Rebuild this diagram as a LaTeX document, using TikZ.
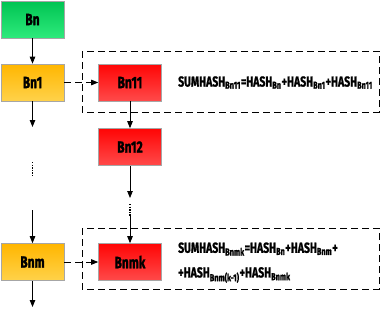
\documentclass[tikz,border=0pt]{standalone}
\usepackage{fontspec}
\setmainfont[FakeStretch=0.72, BoldFeatures={FakeBold=1.2}]{Fira Sans}
\usetikzlibrary{arrows.meta}

\definecolor{gruenoben}{HTML}{00C452}
\definecolor{gruenunten}{HTML}{2EEA7C}
\definecolor{gelboben}{HTML}{FFB600}
\definecolor{gelbunten}{HTML}{FFD24A}
\definecolor{rotoben}{HTML}{FF0505}
\definecolor{rotunten}{HTML}{FF4A4A}

\tikzset{
	blk/.style={draw=black!35, line width=0.6pt, minimum width=63pt, minimum height=37pt, inner sep=0pt, font=\fontsize{16.5pt}{18pt}\selectfont\bfseries},
	gruenblk/.style={blk, top color=gruenoben, bottom color=gruenunten},
	gelbblk/.style={blk, top color=gelboben, bottom color=gelbunten},
	rotblk/.style={blk, top color=rotoben, bottom color=rotunten},
	pfeil/.style={line width=0.8pt, -{Triangle[length=7pt,width=5.5pt]}},
	strich/.style={line width=0.8pt, dash pattern=on 7pt off 4pt},
	punkte/.style={line width=1.4pt, dash pattern=on 1.3pt off 1.3pt}
}

\begin{document}
\begin{tikzpicture}[
		x=1pt, y=-1pt,
		every node/.style={font=\fontsize{14.5pt}{16pt}\selectfont\bfseries}
		]
		\useasboundingbox (0,0) rectangle (382,308);
		
		% Bloecke
		\node[gruenblk] (bn) at (32.5,19.5) {Bn};
		\node[gelbblk] (bn1) at (32.5,82.5) {Bn1};
		\node[gelbblk] (bnm) at (32.5,262) {Bnm};
		\node[rotblk] (bn11) at (130,82.5) {Bn11};
		\node[rotblk] (bn12) at (130,147) {Bn12};
		\node[rotblk] (bnmk) at (130,262) {Bnmk};
		
		\draw [strich] (82,51) rectangle (379,112);
		\draw [strich] (82,228) rectangle (379,289);
		
		\coordinate (l1) at (32.5,127);
		\coordinate (l2) at (32.5,210);
		\coordinate (l3) at (32.5,307);
		\coordinate (r1) at (130,198);
		\coordinate (r2) at (130,216);
		
		\draw [pfeil] (bn) -- (bn1);
		\draw [pfeil] (bn1) -- (l1);
		\draw [punkte] (32.5,162) -- (32.5,176);
		\draw [pfeil] (l2) -- (bnm);
		\draw [pfeil] (bnm) -- (l3);
		
		\draw [pfeil] (bn11) -- (bn12);
		\draw [pfeil] (bn12) -- (r1);
		\draw [punkte] (130,204) -- (130,216);
		\draw [pfeil] (r2) -- (bnmk);
		
		\draw [pfeil, strich] (bn1) -- (bn11);
		\draw [pfeil, strich] (bnm) -- (bnmk);
		
		% Summen
		\node[anchor=west, inner sep=0pt] (sum1) at (178,82.5) {SUMHASH\textsubscript{Bn11}=HASH\textsubscript{Bn}+HASH\textsubscript{Bn1}+HASH\textsubscript{Bn11}};
		\node[anchor=west, inner sep=0pt] (sum2) at (178,249) {SUMHASH\textsubscript{Bnmk}=HASH\textsubscript{Bn}+HASH\textsubscript{Bnm}+};
		\node[anchor=west, inner sep=0pt] (sum3) at (178,275) {+HASH\textsubscript{Bnm(k-1)}+HASH\textsubscript{Bnmk}};
		
	\end{tikzpicture}
\end{document}
